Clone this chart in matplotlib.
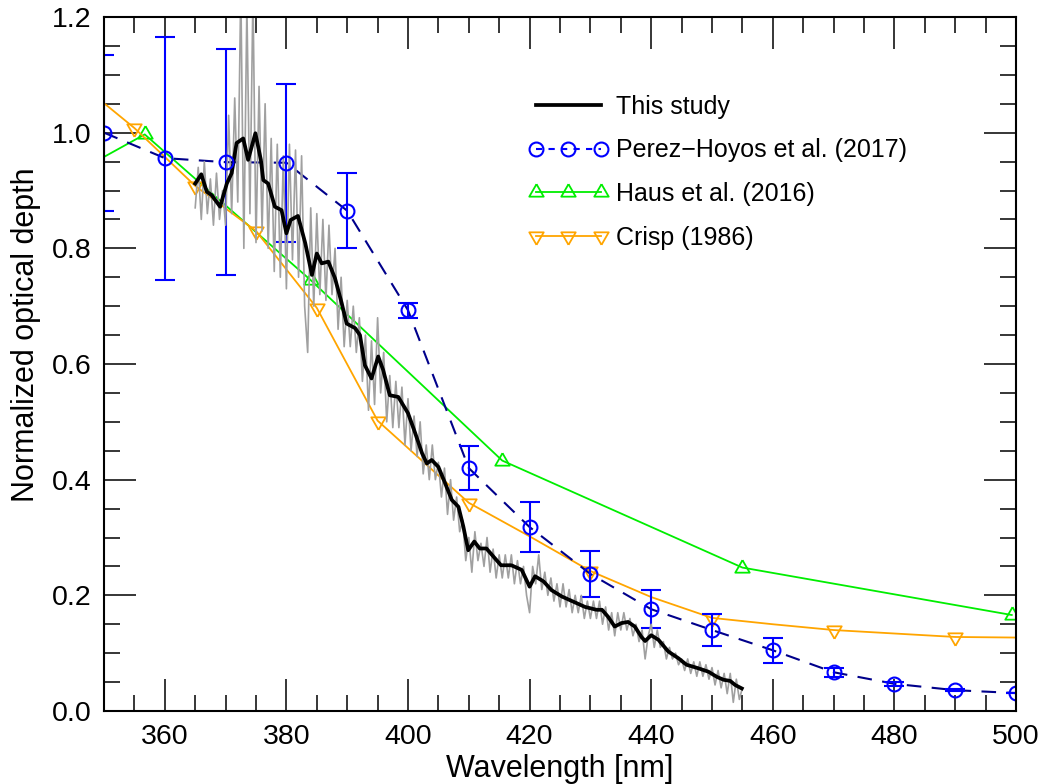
import numpy as np
import matplotlib
matplotlib.use('Agg')
import matplotlib.pyplot as plt
from matplotlib.lines import Line2D
from matplotlib.ticker import MultipleLocator

plt.rcParams['font.family'] = ['Liberation Sans', 'DejaVu Sans']

# This study: smoothed curve
black_wl = [365.0, 366.0, 366.9, 367.7, 369.1, 370.2, 371.0, 371.8, 372.9, 373.7,
            374.9, 375.8, 376.2, 377.0, 378.1, 379.2, 380.0, 380.7, 381.9, 383.1,
            384.2, 385.0, 385.8, 386.9, 388.0, 389.1, 389.9, 391.3, 392.1, 392.9,
            394.0, 395.1, 395.9, 397.0, 398.4, 400.0, 401.2, 402.3, 403.1, 403.9,
            405.0, 406.1, 407.2, 408.3, 409.1, 409.9, 410.9, 411.8, 412.9, 414.3,
            415.3, 417.0, 418.7, 420.0, 420.9, 422.3, 423.6, 425.3, 427.2, 429.1,
            431.0, 431.9, 432.9, 434.0, 435.1, 436.2, 437.3, 438.4, 439.0, 440.0,
            441.2, 442.8, 444.5, 445.8, 447.7, 449.4, 450.8, 451.9, 453.0, 453.8,
            454.9]
black_od = [0.912, 0.928, 0.898, 0.892, 0.872, 0.912, 0.930, 0.982, 0.990, 0.953,
            0.999, 0.953, 0.918, 0.912, 0.872, 0.866, 0.826, 0.849, 0.856, 0.809,
            0.754, 0.791, 0.774, 0.777, 0.748, 0.705, 0.670, 0.662, 0.650, 0.598,
            0.575, 0.613, 0.590, 0.546, 0.543, 0.515, 0.480, 0.446, 0.428, 0.434,
            0.422, 0.394, 0.365, 0.353, 0.319, 0.278, 0.293, 0.281, 0.281, 0.264,
            0.252, 0.252, 0.244, 0.215, 0.233, 0.224, 0.209, 0.198, 0.189, 0.180,
            0.175, 0.175, 0.163, 0.146, 0.152, 0.154, 0.146, 0.128, 0.121, 0.131,
            0.123, 0.103, 0.091, 0.080, 0.074, 0.068, 0.059, 0.054, 0.052, 0.045,
            0.039]

# This study: raw high resolution data (0.5 nm sampling from 365 nm)
gray_start = 365.0
gray_step = 0.5
gray_od = [0.87, 0.94, 0.85, 0.95, 0.86, 0.92, 0.84, 0.93, 0.85, 0.90,
           0.84, 1.03, 0.86, 1.06, 0.88, 1.25, 0.80, 1.22, 0.86, 1.24,
           0.81, 1.08, 0.83, 1.05, 0.80, 0.99, 0.76, 0.98, 0.75, 0.96,
           0.73, 0.98, 0.78, 0.97, 0.75, 0.96, 0.70, 0.62, 0.87, 0.70,
           0.86, 0.72, 0.85, 0.71, 0.84, 0.72, 0.80, 0.66, 0.75, 0.63,
           0.71, 0.63, 0.70, 0.62, 0.68, 0.57, 0.65, 0.52, 0.64, 0.53,
           0.68, 0.55, 0.62, 0.50, 0.58, 0.49, 0.57, 0.49, 0.56, 0.46,
           0.54, 0.45, 0.51, 0.44, 0.50, 0.41, 0.46, 0.40, 0.46, 0.40,
           0.43, 0.37, 0.42, 0.34, 0.40, 0.33, 0.37, 0.31, 0.33, 0.26,
           0.30, 0.24, 0.31, 0.26, 0.29, 0.25, 0.30, 0.24, 0.28, 0.23,
           0.27, 0.23, 0.27, 0.23, 0.27, 0.22, 0.26, 0.22, 0.25, 0.20,
           0.17, 0.25, 0.22, 0.27, 0.21, 0.24, 0.20, 0.23, 0.19, 0.22,
           0.18, 0.22, 0.18, 0.21, 0.17, 0.20, 0.17, 0.20, 0.16, 0.19,
           0.16, 0.19, 0.16, 0.19, 0.15, 0.18, 0.14, 0.17, 0.13, 0.17,
           0.14, 0.17, 0.14, 0.16, 0.13, 0.15, 0.12, 0.14, 0.09, 0.13,
           0.15, 0.11, 0.14, 0.11, 0.12, 0.09, 0.11, 0.09, 0.10, 0.08,
           0.09, 0.07, 0.09, 0.065, 0.085, 0.06, 0.085, 0.06, 0.08, 0.055,
           0.075, 0.045, 0.07, 0.04, 0.065, 0.03, 0.065, 0.015, 0.055, 0.02,
           0.04]

# Perez-Hoyos et al. (2017)
ph_wl = [350, 360, 370, 380, 390, 400, 410, 420, 430, 440, 450, 460, 470, 480, 490, 500]
ph_od = [1.000, 0.956, 0.949, 0.948, 0.865, 0.693, 0.420, 0.318, 0.237, 0.176,
         0.140, 0.105, 0.067, 0.047, 0.036, 0.031]
ph_err = [0.135, 0.210, 0.195, 0.137, 0.065, 0.013, 0.038, 0.043, 0.040, 0.033,
          0.028, 0.022, 0.008, 0.004, 0.002, 0.0]

# Haus et al. (2016)
haus_wl = [340.0, 356.7, 384.0, 415.5, 455.0, 499.3]
haus_od = [0.900, 0.997, 0.745, 0.433, 0.248, 0.166]

# Crisp (1986)
crisp_wl = [345, 355, 365, 375, 385, 395, 410, 420, 430, 440, 450, 460, 470, 480, 490, 510]
crisp_od = [1.094, 1.008, 0.908, 0.830, 0.697, 0.502, 0.360, 0.302, 0.242, 0.197,
            0.161, 0.150, 0.140, 0.134, 0.128, 0.126]
crisp_marked = [355, 365, 375, 385, 395, 410, 430, 450, 470, 490]

# triangles centred on their centroid, as in the original plot
tri_up = [(0, 1), (-0.866, -0.5), (0.866, -0.5), (0, 1)]
tri_dn = [(0, -1), (-0.866, 0.5), (0.866, 0.5), (0, -1)]

blue = '#0000FF'
navy = '#00008B'
green = '#00EE00'
orange = '#FFA500'

fig = plt.figure(figsize=(10.44, 7.84), dpi=100)
ax = fig.add_axes([104 / 1044, 1 - 711 / 784, 912 / 1044, 694 / 784])

ax.plot(haus_wl, haus_od, color=green, lw=1.3, marker=tri_up, ms=12,
        mfc='none', mec=green, mew=1.3)

crisp_idx = [i for i, w in enumerate(crisp_wl) if w in crisp_marked]
ax.plot(crisp_wl, crisp_od, color=orange, lw=1.3, marker=tri_dn, ms=12,
        mfc='none', mec=orange, mew=1.3, markevery=crisp_idx)

ax.plot(ph_wl, ph_od, color=navy, lw=1.5, ls=(0, (7, 5)))
ax.errorbar(ph_wl, ph_od, yerr=ph_err, fmt='o', ms=10, mfc='none', mec=blue,
            mew=1.5, ecolor=blue, elinewidth=1.5, capsize=7.5, capthick=1.5)

gray_wl = gray_start + gray_step * np.arange(len(gray_od))
ax.plot(gray_wl, gray_od, color='#A0A0A0', lw=1.2)
ax.plot(black_wl, black_od, color='black', lw=2.7)

ax.set_xlim(350, 500)
ax.set_ylim(0, 1.2)
ax.xaxis.set_major_locator(MultipleLocator(20))
ax.xaxis.set_minor_locator(MultipleLocator(5))
ax.yaxis.set_major_locator(MultipleLocator(0.2))
ax.yaxis.set_minor_locator(MultipleLocator(0.05))
ax.yaxis.set_major_formatter(matplotlib.ticker.FormatStrFormatter('%.1f'))
ax.tick_params(which='both', direction='in', top=True, right=True, width=1.1,
               labelsize=20.5, pad=9)
ax.tick_params(which='major', length=23)
ax.tick_params(which='minor', length=11.5)
for s in ax.spines.values():
    s.set_linewidth(1.5)

ax.set_xlabel('Wavelength [nm]', fontsize=22, labelpad=3)
ax.set_ylabel('Normalized optical depth', fontsize=22)
ax.yaxis.set_label_coords(-0.069, 0.542)

handles = [
    Line2D([], [], color='black', lw=2.7),
    Line2D([], [], color=blue, lw=1.5, ls=(0, (3, 3)), marker='o', ms=10,
           mfc='none', mec=blue, mew=1.5),
    Line2D([], [], color=green, lw=1.3, marker=tri_up, ms=12, mfc='none',
           mec=green, mew=1.3),
    Line2D([], [], color=orange, lw=1.3, marker=tri_dn, ms=12, mfc='none',
           mec=orange, mew=1.3),
]
labels = ['This study', 'Perez\u2212Hoyos et al. (2017)', 'Haus et al. (2016)', 'Crisp (1986)']
ax.legend(handles, labels, loc='upper left', bbox_to_anchor=(528 / 1044, 1 - 95 / 784),
          bbox_transform=fig.transFigure, frameon=False, fontsize=18, numpoints=3,
          handlelength=3.2, handletextpad=0.3, labelspacing=0.78, borderpad=0,
          borderaxespad=0)

fig.savefig('out.png', dpi=100)
